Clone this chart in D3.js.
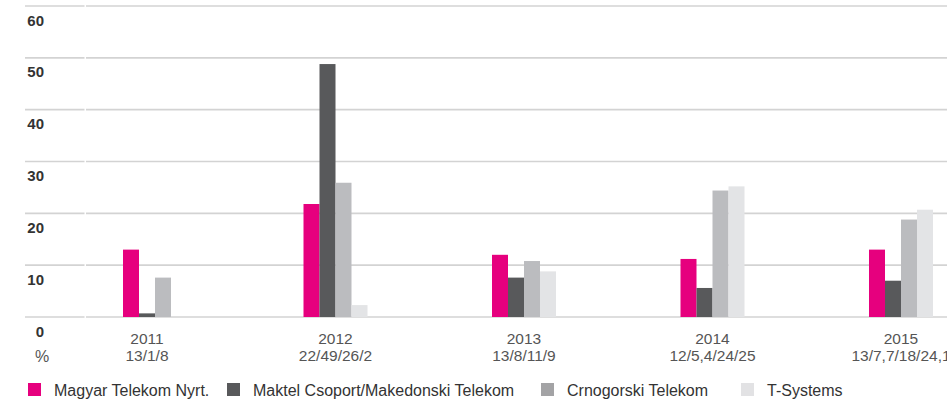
<!DOCTYPE html>
<html>
<head>
<meta charset="utf-8">
<script src="https://cdn.jsdelivr.net/npm/d3@7"></script>
<style>
  html, body { margin: 0; padding: 0; background: #fff; }
  svg { display: block; font-family: "Liberation Sans", Arial, sans-serif; }
</style>
</head>
<body>
<svg id="chart" width="947" height="404"></svg>
<script>
// ---- data ----
const years = ["2011", "2012", "2013", "2014", "2015"];
const subLabels = ["13/1/8", "22/49/26/2", "13/8/11/9", "12/5,4/24/25", "13/7,7/18/24,1"];
const seriesNames = ["Magyar Telekom Nyrt.", "Maktel Csoport/Makedonski Telekom", "Crnogorski Telekom", "T-Systems"];
const magyar = [13, 21.8, 12, 11.2, 13];
const maktel = [0.7, 48.8, 7.6, 5.6, 7];
const crnogorski = [7.6, 25.9, 10.8, 24.4, 18.8];
const tsystems = [null, 2.3, 8.8, 25.2, 20.7];
const yTicks = [0, 10, 20, 30, 40, 50, 60];
const unitLabel = "%";

const barColors = ["#e6007e", "#58595b", "#bbbcbf", "#e3e4e6"];
const legendColors = ["#e6007e", "#58595b", "#a3a3a5", "#e2e2e4"];

// ---- layout ----
const svg = d3.select("#chart");
const y = d3.scaleLinear().domain([0, 60]).range([317, 6]);
const x = d3.scalePoint().domain(years).range([147, 901]);
const barW = 16;
const allSeries = [magyar, maktel, crnogorski, tsystems];

// gridlines
const grid = svg.append("g");
yTicks.forEach(t => {
  grid.append("line").attr("x1", 25).attr("x2", 84.5)
    .attr("y1", y(t)).attr("y2", y(t))
    .attr("stroke", "#d3d3d3").attr("stroke-width", 1.6);
  grid.append("line").attr("x1", 86).attr("x2", 947)
    .attr("y1", y(t)).attr("y2", y(t))
    .attr("stroke", "#d3d3d3").attr("stroke-width", 1.6);
});

// y tick labels
svg.append("g").selectAll("text").data(yTicks).join("text")
  .attr("x", 44).attr("y", d => y(d) + 19.5)
  .attr("text-anchor", "end")
  .attr("font-size", 15).attr("font-weight", "bold").attr("fill", "#333")
  .text(d => d);

svg.append("text").attr("x", 42).attr("y", 362)
  .attr("text-anchor", "middle").attr("font-size", 16).attr("fill", "#555")
  .text(unitLabel);

// bars
const bars = svg.append("g");
years.forEach((yr, i) => {
  const present = allSeries.map((s, k) => ({ k, v: s[i] })).filter(d => d.v != null);
  const start = x(yr) - present.length * barW / 2;
  present.forEach((d, j) => {
    bars.append("rect")
      .attr("x", start + j * barW)
      .attr("y", y(d.v))
      .attr("width", barW)
      .attr("height", y(0) - y(d.v))
      .attr("fill", barColors[d.k]);
  });
});

// category labels
const cat = svg.append("g");
cat.selectAll("text.yr").data(years).join("text").attr("class", "yr")
  .attr("x", d => x(d)).attr("y", 344)
  .attr("text-anchor", "middle").attr("font-size", 15.5).attr("fill", "#555")
  .text(d => d);
cat.selectAll("text.sub").data(years).join("text").attr("class", "sub")
  .attr("x", d => x(d)).attr("y", 361)
  .attr("text-anchor", "middle").attr("font-size", 15.5).attr("fill", "#555")
  .text((d, i) => subLabels[i]);

// legend
const legendX = [28, 227, 541, 741];
const lg = svg.append("g");
seriesNames.forEach((name, i) => {
  lg.append("rect").attr("x", legendX[i]).attr("y", 383)
    .attr("width", 13).attr("height", 13).attr("fill", legendColors[i]);
  lg.append("text").attr("x", legendX[i] + 26).attr("y", 396)
    .attr("font-size", 16).attr("fill", "#333").text(name);
});
</script>
</body>
</html>
